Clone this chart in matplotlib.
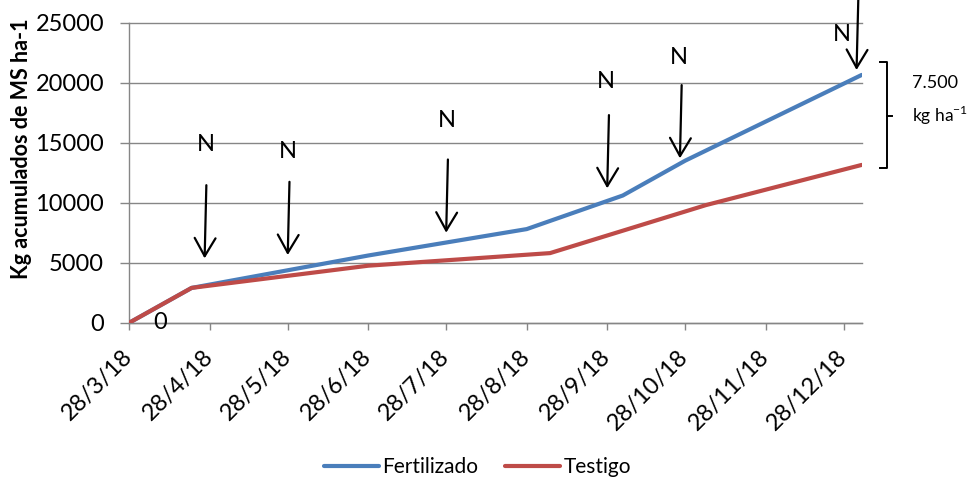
#!/usr/bin/env python3
"""
Acumulado de materia seca: Fertilizado vs Testigo
"""

import matplotlib
matplotlib.use('Agg')
import matplotlib.pyplot as plt
import pandas as pd

plt.rcParams['font.family'] = ['Lato', 'DejaVu Sans']
plt.rcParams['mathtext.fontset'] = 'custom'
plt.rcParams['mathtext.rm'] = 'Lato'

# Data
fert_dates = pd.to_datetime(['2018-03-28', '2018-04-21', '2018-06-28', '2018-08-28',
                             '2018-10-04', '2018-10-28', '2019-01-04'])
fert_values = [0, 2900, 5600, 7800, 10600, 13500, 20650]

test_dates = pd.to_datetime(['2018-03-28', '2018-04-21', '2018-06-28', '2018-09-06',
                             '2018-11-05', '2019-01-04'])
test_values = [0, 2900, 4750, 5800, 9800, 13150]

# Fertilization (N) events
n_dates = pd.to_datetime(['2018-04-26', '2018-05-28', '2018-07-28', '2018-09-28',
                          '2018-10-26', '2019-01-02'])
n_tip_y = [5360, 5640, 7500, 11200, 13700, 21060]
n_label_dx = [1, 0, 1, -1, -1, -14]
n_label_y = [14890, 14250, 16890, 20080, 22120, 23980]

tick_dates = pd.date_range('2018-03-28', '2018-12-28', freq=pd.DateOffset(months=1))
tick_labels = [f'{d.day}/{d.month}/{d:%y}' for d in tick_dates]

gray = '#868686'
blue = '#4a7ebb'
red = '#be4b48'

fig = plt.figure(figsize=(9.7, 4.79), dpi=100)
ax = fig.add_axes([0.1333, 0.3263, 0.7551, 0.6263])

ax.plot(fert_dates, fert_values, color=blue, lw=3, label='Fertilizado',
        solid_capstyle='round', solid_joinstyle='round', zorder=3)
ax.plot(test_dates, test_values, color=red, lw=3, label='Testigo',
        solid_capstyle='round', solid_joinstyle='round', zorder=3)

ax.set_xlim(fert_dates[0], fert_dates[-1])
ax.set_ylim(0, 25000)
ax.set_yticks(range(0, 25001, 5000))
ax.set_xticks(tick_dates)
ax.set_xticklabels(tick_labels, rotation=45, ha='right', va='center',
                   rotation_mode='anchor', fontsize=17)
ax.tick_params(axis='x', direction='out', length=5, width=1, color=gray, pad=17)
ax.tick_params(axis='y', direction='out', length=6.2, width=1, color=gray, pad=12,
               labelsize=17)

ax.yaxis.grid(True, color=gray, lw=1)
for gl in ax.get_ygridlines():
    gl.set_clip_on(False)
ax.set_axisbelow(True)
for side in ['top', 'right']:
    ax.spines[side].set_visible(False)
for side in ['left', 'bottom']:
    ax.spines[side].set_color(gray)
    ax.spines[side].set_linewidth(1)

ax.set_ylabel('Kg acumulados de MS ha-1', fontsize=15.5, fontweight='bold')
ax.yaxis.set_label_coords(-0.133, 0.581)

# data label at origin
ax.annotate('0', xy=(fert_dates[0], 0), xytext=(22, 0), textcoords='offset points',
            ha='center', va='center', fontsize=17)

# N arrows
for d, tip, dx, ly in zip(n_dates, n_tip_y, n_label_dx, n_label_y):
    tail_x = d + pd.Timedelta(hours=16)
    tail_y = tip + 6100 if ly < 23000 else 26900
    ax.annotate('', xy=(d, tip), xytext=(tail_x, tail_y),
                arrowprops=dict(arrowstyle='->,head_length=1.3,head_width=0.75',
                                lw=1.6, color='black', shrinkA=0, shrinkB=0,
                                mutation_scale=10),
                annotation_clip=False)
    ax.text(d + pd.Timedelta(days=dx * 0.4), ly, 'N', ha='center', va='center',
            fontsize=17, zorder=4)

# bracket for the difference between the two treatments
ytr = ax.get_yaxis_transform()
ax.plot([1.025, 1.0344, 1.0344, 1.025], [21700, 21700, 12900, 12900],
        color='black', lw=1.4, transform=ytr, clip_on=False)
ax.plot([1.0344, 1.0412], [17225, 17225], color='black', lw=1.4,
        transform=ytr, clip_on=False)
ax.text(1.068, 19950, '7.500', transform=ytr, fontsize=13, va='center', ha='left')
ax.text(1.068, 17300, 'kg ha$^{-1}$', transform=ytr, fontsize=12.5, va='center', ha='left')

fig.legend(loc='center', bbox_to_anchor=(0.492, 0.025), ncol=2, frameon=False,
           fontsize=15, handlelength=2.67, handletextpad=0.15, columnspacing=1.25)

fig.savefig('out.png', dpi=100)
